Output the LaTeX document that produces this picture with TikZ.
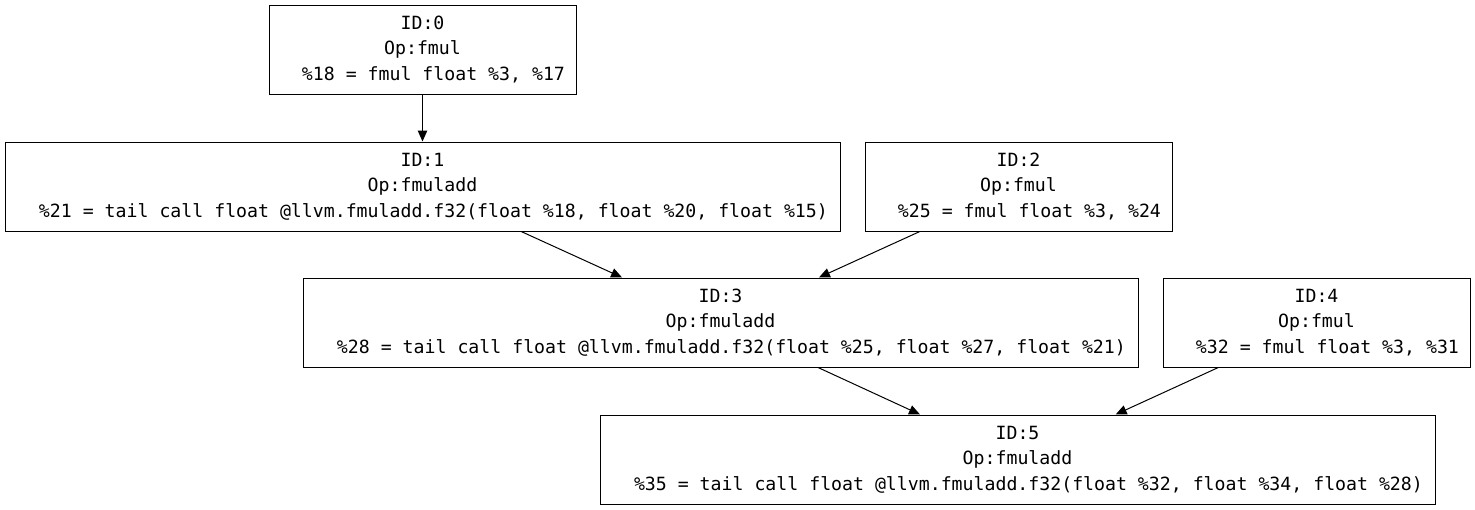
\documentclass[tikz,border=0pt]{standalone}
\usepackage{fontspec}
\setmonofont{DejaVu Sans Mono}
\usetikzlibrary{arrows.meta}
\tikzset{
  opbox/.style={draw=black, line width=1pt, inner sep=0pt, minimum height=89pt,
    align=center, font=\fontsize{18.2pt}{25.6pt}\selectfont\ttfamily},
  narrow/.style={opbox, minimum width=307pt},
  wide/.style={opbox, minimum width=835pt},
  edge/.style={draw=black, line width=1pt, -{Triangle[length=11pt,width=9.5pt]}}
}
\newcommand{\lead}{\hphantom{00}}
\begin{document}
\begin{tikzpicture}[x=1pt,y=-1pt]
\useasboundingbox (0,0) rectangle (1475,509);
\node[narrow] (n0) at (422.5,49.5) {ID:0\\Op:fmul\\\lead\%18 = fmul float \%3, \%17};
\node[wide] (n1) at (422.5,186.5) {ID:1\\Op:fmuladd\\\lead\%21 = tail call float @llvm.fmuladd.f32(float \%18, float \%20, float \%15)};
\node[narrow] (n2) at (1018.5,186.5) {ID:2\\Op:fmul\\\lead\%25 = fmul float \%3, \%24};
\node[wide] (n3) at (720.5,322.5) {ID:3\\Op:fmuladd\\\lead\%28 = tail call float @llvm.fmuladd.f32(float \%25, float \%27, float \%21)};
\node[narrow] (n4) at (1316.5,322.5) {ID:4\\Op:fmul\\\lead\%32 = fmul float \%3, \%31};
\node[wide] (n5) at (1017.5,459.5) {ID:5\\Op:fmuladd\\\lead\%35 = tail call float @llvm.fmuladd.f32(float \%32, float \%34, float \%28)};
\draw[edge] (n0) -- (n1);
\draw[edge] (n1) -- (n3);
\draw[edge] (n2) -- (n3);
\draw[edge] (n3) -- (n5);
\draw[edge] (n4) -- (n5);
\end{tikzpicture}
\end{document}
